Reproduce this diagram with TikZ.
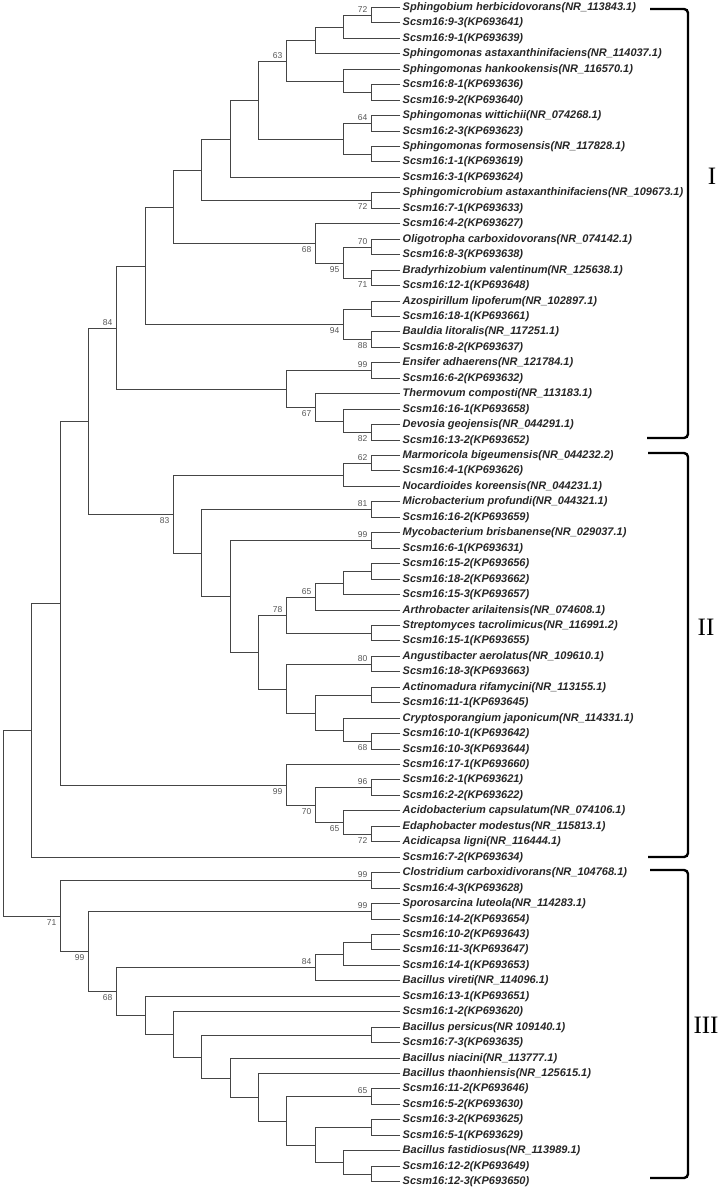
\documentclass[tikz,border=0pt]{standalone}
\usepackage{fontspec}
\setmainfont{Liberation Serif}
\newfontfamily\leaffont{Liberation Sans}
\usetikzlibrary{calc}
\definecolor{treegray}{HTML}{454545}
\definecolor{bootgray}{HTML}{555555}
\newcommand{\clade}[4]{%
  \path let \p1=(#3), \p2=(#4) in coordinate (#1) at ({round(3+#2*28.33)+0.5},{-floor(-(\y1+\y2)/2)-0.5});
  \path[treeline] (#3) -| (#1) |- (#4);}

\begin{document}
\begin{tikzpicture}[x=1pt,y=-1pt]
        \tikzstyle{leaf}=[anchor=west,inner xsep=2.5pt,inner ysep=0pt,text height=8pt,text depth=2.5pt,font=\leaffont\bfseries\itshape\fontsize{11}{11}\selectfont,text=black!85]
        \tikzstyle{treeline}=[draw=treegray,line width=1.8pt]
        \tikzstyle{boot}=[inner sep=0pt,font=\leaffont\fontsize{8.5}{8}\selectfont,text=bootgray]
        \tikzstyle{bootup}=[boot,anchor=south east,xshift=-4pt,yshift=2.5pt]
        \tikzstyle{bootdown}=[boot,anchor=north east,xshift=-4pt,yshift=-2.5pt]
        \tikzstyle{bracket}=[draw=black,line width=2.4pt,rounded corners=4pt]
        \tikzstyle{romanlabel}=[inner sep=0pt,font=\fontsize{25}{25}\selectfont]
        \useasboundingbox (0,0) rectangle (725,1190);
       \begin{scope}
         \foreach \name [count=\i] in {
           Sphingobium herbicidovorans(NR\_113843.1),
           Scsm16:9-3(KP693641),
           Scsm16:9-1(KP693639),
           Sphingomonas astaxanthinifaciens(NR\_114037.1),
           Sphingomonas hankookensis(NR\_116570.1),
           Scsm16:8-1(KP693636),
           Scsm16:9-2(KP693640),
           Sphingomonas wittichii(NR\_074268.1),
           Scsm16:2-3(KP693623),
           Sphingomonas formosensis(NR\_117828.1),
           Scsm16:1-1(KP693619),
           Scsm16:3-1(KP693624),
           Sphingomicrobium astaxanthinifaciens(NR\_109673.1),
           Scsm16:7-1(KP693633),
           Scsm16:4-2(KP693627),
           Oligotropha carboxidovorans(NR\_074142.1),
           Scsm16:8-3(KP693638),
           Bradyrhizobium valentinum(NR\_125638.1),
           Scsm16:12-1(KP693648),
           Azospirillum lipoferum(NR\_102897.1),
           Scsm16:18-1(KP693661),
           Bauldia litoralis(NR\_117251.1),
           Scsm16:8-2(KP693637),
           Ensifer adhaerens(NR\_121784.1),
           Scsm16:6-2(KP693632),
           Thermovum composti(NR\_113183.1),
           Scsm16:16-1(KP693658),
           Devosia geojensis(NR\_044291.1),
           Scsm16:13-2(KP693652),
           Marmoricola bigeumensis(NR\_044232.2),
           Scsm16:4-1(KP693626),
           Nocardioides koreensis(NR\_044231.1),
           Microbacterium profundi(NR\_044321.1),
           Scsm16:16-2(KP693659),
           Mycobacterium brisbanense(NR\_029037.1),
           Scsm16:6-1(KP693631),
           Scsm16:15-2(KP693656),
           Scsm16:18-2(KP693662),
           Scsm16:15-3(KP693657),
           Arthrobacter arilaitensis(NR\_074608.1),
           Streptomyces tacrolimicus(NR\_116991.2),
           Scsm16:15-1(KP693655),
           Angustibacter aerolatus(NR\_109610.1),
           Scsm16:18-3(KP693663),
           Actinomadura rifamycini(NR\_113155.1),
           Scsm16:11-1(KP693645),
           Cryptosporangium japonicum(NR\_114331.1),
           Scsm16:10-1(KP693642),
           Scsm16:10-3(KP693644),
           Scsm16:17-1(KP693660),
           Scsm16:2-1(KP693621),
           Scsm16:2-2(KP693622),
           Acidobacterium capsulatum(NR\_074106.1),
           Edaphobacter modestus(NR\_115813.1),
           Acidicapsa ligni(NR\_116444.1),
           Scsm16:7-2(KP693634),
           Clostridium carboxidivorans(NR\_104768.1),
           Scsm16:4-3(KP693628),
           Sporosarcina luteola(NR\_114283.1),
           Scsm16:14-2(KP693654),
           Scsm16:10-2(KP693643),
           Scsm16:11-3(KP693647),
           Scsm16:14-1(KP693653),
           Bacillus vireti(NR\_114096.1),
           Scsm16:13-1(KP693651),
           Scsm16:1-2(KP693620),
           Bacillus persicus(NR 109140.1),
           Scsm16:7-3(KP693635),
           Bacillus niacini(NR\_113777.1),
           Bacillus thaonhiensis(NR\_125615.1),
           Scsm16:11-2(KP693646),
           Scsm16:5-2(KP693630),
           Scsm16:3-2(KP693625),
           Scsm16:5-1(KP693629),
           Bacillus fastidiosus(NR\_113989.1),
           Scsm16:12-2(KP693649),
           Scsm16:12-3(KP693650)}
           \node [leaf] (l\i) at (400,{round(7+(\i-1)*15.45)+0.5}) {\name};

         \clade{A}{13}{l1}{l2}
         \clade{B}{12}{A}{l3}
         \clade{C}{11}{B}{l4}
         \clade{E}{13}{l6}{l7}
         \clade{D}{12}{l5}{E}
         \clade{CD}{10}{C}{D}
         \clade{G}{13}{l8}{l9}
         \clade{H}{13}{l10}{l11}
         \clade{F}{12}{G}{H}
         \clade{n9}{9}{CD}{F}
         \clade{n8}{8}{n9}{l12}
         \clade{I}{13}{l13}{l14}
         \clade{n7}{7}{n8}{I}
         \clade{L}{13}{l16}{l17}
         \clade{M}{13}{l18}{l19}
         \clade{K}{12}{L}{M}
         \clade{J}{11}{l15}{K}
         \clade{n6}{6}{n7}{J}
         \clade{O}{13}{l20}{l21}
         \clade{P}{13}{l22}{l23}
         \clade{N}{12}{O}{P}
         \clade{n5}{5}{n6}{N}
         \clade{R}{13}{l24}{l25}
         \clade{U}{13}{l28}{l29}
         \clade{T}{12}{l27}{U}
         \clade{S}{11}{l26}{T}
         \clade{Q}{10}{R}{S}
         \clade{n4}{4}{n5}{Q}
         \clade{Y}{13}{l30}{l31}
         \clade{W}{12}{Y}{l32}
         \clade{Z}{13}{l33}{l34}
         \clade{AB}{13}{l35}{l36}
         \clade{AI}{13}{l37}{l38}
         \clade{AH}{12}{AI}{l39}
         \clade{AF}{11}{AH}{l40}
         \clade{AG}{13}{l41}{l42}
         \clade{AD}{10}{AF}{AG}
         \clade{AJ}{13}{l43}{l44}
         \clade{AL}{13}{l45}{l46}
         \clade{AN}{13}{l48}{l49}
         \clade{AM}{12}{l47}{AN}
         \clade{AK}{11}{AL}{AM}
         \clade{AE}{10}{AJ}{AK}
         \clade{AC}{9}{AD}{AE}
         \clade{AA}{8}{AB}{AC}
         \clade{X}{7}{Z}{AA}
         \clade{V}{6}{W}{X}
         \clade{n3}{3}{n4}{V}
         \clade{AQ}{13}{l51}{l52}
         \clade{AS}{13}{l54}{l55}
         \clade{AR}{12}{l53}{AS}
         \clade{AP}{11}{AQ}{AR}
         \clade{AO}{10}{l50}{AP}
         \clade{n2}{2}{n3}{AO}
         \clade{n1}{1}{n2}{l56}
         \clade{AU}{13}{l57}{l58}
         \clade{AW}{13}{l59}{l60}
         \clade{BB}{13}{l61}{l62}
         \clade{BA}{12}{BB}{l63}
         \clade{AY}{11}{BA}{l64}
         \clade{BE}{13}{l67}{l68}
         \clade{BI}{13}{l71}{l72}
         \clade{BK}{13}{l73}{l74}
         \clade{BM}{13}{l76}{l77}
         \clade{BL}{12}{l75}{BM}
         \clade{BJ}{11}{BK}{BL}
         \clade{BH}{10}{BI}{BJ}
         \clade{BG}{9}{l70}{BH}
         \clade{BF}{8}{l69}{BG}
         \clade{BD}{7}{BE}{BF}
         \clade{BC}{6}{l66}{BD}
         \clade{AZ}{5}{l65}{BC}
         \clade{AX}{4}{AY}{AZ}
         \clade{AV}{3}{AW}{AX}
         \clade{AT}{2}{AU}{AV}
         \clade{root}{0}{n1}{AT}

         \node [bootup] (bA) at (A) {72};
         \node [bootup] (bCD) at (CD) {63};
         \node [bootup] (bG) at (G) {64};
         \node [bootdown] (bI) at (I) {72};
         \node [bootup] (bL) at (L) {70};
         \node [bootdown] (bM) at (M) {71};
         \node [bootdown] (bK) at (K) {95};
         \node [bootdown] (bJ) at (J) {68};
         \node [bootdown] (bP) at (P) {88};
         \node [bootdown] (bN) at (N) {94};
         \node [bootup] (bn4) at (n4) {84};
         \node [bootup] (bR) at (R) {99};
         \node [bootdown] (bU) at (U) {82};
         \node [bootdown] (bS) at (S) {67};
         \node [bootup] (bY) at (Y) {62};
         \node [bootdown] (bV) at (V) {83};
         \node [bootup] (bZ) at (Z) {81};
         \node [bootup] (bAB) at (AB) {99};
         \node [bootup] (bAF) at (AF) {65};
         \node [bootup] (bAD) at (AD) {78};
         \node [bootup] (bAJ) at (AJ) {80};
         \node [bootdown] (bAN) at (AN) {68};
         \node [bootdown] (bAO) at (AO) {99};
         \node [bootup] (bAQ) at (AQ) {96};
         \node [bootdown] (bAP) at (AP) {70};
         \node [bootdown] (bAR) at (AR) {65};
         \node [bootdown] (bAS) at (AS) {72};
         \node [bootdown] (bAT) at (AT) {71};
         \node [bootup] (bAU) at (AU) {99};
         \node [bootdown] (bAV) at (AV) {99};
         \node [bootup] (bAW) at (AW) {99};
         \node [bootdown] (bAX) at (AX) {68};
         \node [bootup] (bAY) at (AY) {84};
         \node [bootup] (bBI) at (BI) {65};
        \end{scope}

       \begin{scope}
         \draw [bracket] (650,9) -- (688,9) -- (688,438) -- (647,438);
         \draw [bracket] (648,453) -- (688,453) -- (688,857) -- (648,857);
         \draw [bracket] (650,870) -- (688,870) -- (688,1178) -- (650,1178);
         \node [romanlabel] (gI) at (712,176) {I};
         \node [romanlabel] (gII) at (706,627) {II};
         \node [romanlabel] (gIII) at (706,1025) {III};
        \end{scope}
      \end{tikzpicture}
\end{document}
